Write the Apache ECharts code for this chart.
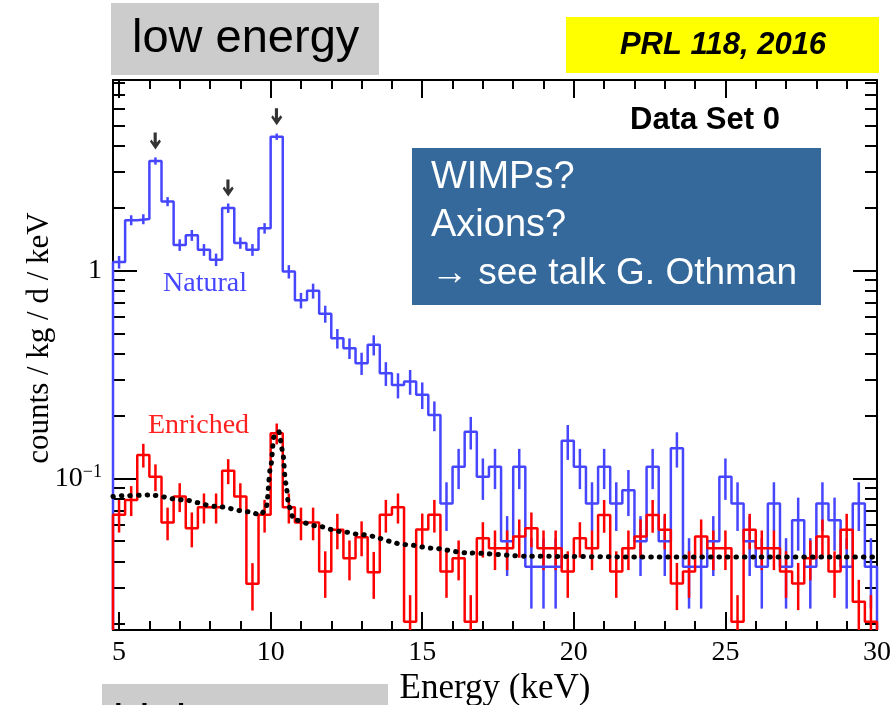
<!DOCTYPE html>
<html>
<head>
<meta charset="utf-8">
<script src="https://cdn.jsdelivr.net/npm/echarts@6/dist/echarts.min.js"></script>
<style>
  html, body { margin: 0; padding: 0; background: #ffffff; }
  #chart { width: 891px; height: 705px; }
</style>
</head>
<body>
<div id="chart"></div>
<script>
// Bin centres in keV (0.4 keV bins covering 4.8 - 30 keV)
const energies = [5.0, 5.4, 5.8, 6.2, 6.6, 7.0, 7.4, 7.8, 8.2, 8.6, 9.0, 9.4, 9.8, 10.2, 10.6,
  11.0, 11.4, 11.8, 12.2, 12.6, 13.0, 13.4, 13.8, 14.2, 14.6, 15.0, 15.4, 15.8, 16.2, 16.6,
  17.0, 17.4, 17.8, 18.2, 18.6, 19.0, 19.4, 19.8, 20.2, 20.6, 21.0, 21.4, 21.8, 22.2, 22.6,
  23.0, 23.4, 23.8, 24.2, 24.6, 25.0, 25.4, 25.8, 26.2, 26.6, 27.0, 27.4, 27.8, 28.2, 28.6,
  29.0, 29.4, 29.8];
const binHalfWidth = 0.2;

// Natural detectors: rate per bin (counts / kg / d / keV) and its uncertainty
const natural = [1.10, 1.75, 1.77, 3.37, 2.15, 1.33, 1.48, 1.26, 1.13, 2.00, 1.36, 1.26, 1.60, 4.41,
  0.99, 0.72, 0.80, 0.62, 0.473, 0.424, 0.359, 0.44, 0.321, 0.282, 0.293, 0.253, 0.202,
  0.076, 0.114, 0.168, 0.102, 0.114, 0.050, 0.114, 0.0377, 0.0377, 0.0377,
  0.152, 0.114, 0.076, 0.114, 0.076, 0.088, 0.050, 0.114, 0.050, 0.140,
  0.0377, 0.0377, 0.050, 0.102, 0.076, 0.050, 0.0377, 0.076, 0.0377, 0.063,
  0.0377, 0.076, 0.063, 0.0377, 0.076, 0.0377];
const naturalErr = [0.077, 0.097, 0.098, 0.135, 0.108, 0.085, 0.089, 0.082, 0.078, 0.104, 0.086, 0.082, 0.093, 0.154,
  0.073, 0.062, 0.066, 0.058, 0.051, 0.048, 0.044, 0.049, 0.042, 0.039, 0.040, 0.037, 0.033,
  0.020, 0.025, 0.030, 0.023, 0.025, 0.016, 0.025, 0.014, 0.014, 0.014,
  0.029, 0.025, 0.020, 0.025, 0.020, 0.022, 0.016, 0.025, 0.016, 0.027,
  0.014, 0.014, 0.016, 0.023, 0.020, 0.016, 0.014, 0.020, 0.014, 0.018,
  0.014, 0.020, 0.018, 0.014, 0.020, 0.014];

// Enriched detectors
const enriched = [0.067, 0.079, 0.130, 0.102, 0.0615, 0.082, 0.0577, 0.0728, 0.0728, 0.109,
  0.082, 0.0312, 0.067, 0.165, 0.0728, 0.0615, 0.0615, 0.0357, 0.0567, 0.0414,
  0.0523, 0.0354, 0.067, 0.0728, 0.0205, 0.0569, 0.067, 0.0357, 0.0414, 0.0205,
  0.0517, 0.0463, 0.0463, 0.0526, 0.0577, 0.0463, 0.0463, 0.0357, 0.0517, 0.0463,
  0.0669, 0.0357, 0.0463, 0.0526, 0.0669, 0.0567, 0.0313, 0.0357, 0.0526, 0.0463,
  0.0463, 0.0205, 0.0567, 0.0463, 0.0463, 0.0357, 0.0313, 0.0414, 0.0526, 0.0357,
  0.0567, 0.0256, 0.0205];
const enrichedErr = [0.012, 0.013, 0.017, 0.015, 0.011, 0.013, 0.011, 0.012, 0.012, 0.015,
  0.013, 0.008, 0.012, 0.019, 0.012, 0.011, 0.011, 0.009, 0.011, 0.009,
  0.010, 0.009, 0.012, 0.012, 0.007, 0.011, 0.012, 0.009, 0.009, 0.007,
  0.010, 0.010, 0.010, 0.011, 0.011, 0.010, 0.010, 0.009, 0.010, 0.010,
  0.012, 0.009, 0.010, 0.011, 0.012, 0.011, 0.008, 0.009, 0.011, 0.010,
  0.010, 0.007, 0.011, 0.010, 0.010, 0.009, 0.008, 0.009, 0.011, 0.009,
  0.011, 0.007, 0.007];

// Background model for the enriched spectrum
const fitEnergies = [4.8, 5.05, 6.0, 7.1, 8.2, 9.3, 9.67, 9.85, 10.0, 10.11, 10.27, 10.39, 10.5,
  10.6, 10.77, 11.5, 12.3, 13.0, 14.5, 15.3, 16.5, 18.6, 22.0, 26.0, 30.0];
const fitValues = [0.082, 0.0826, 0.0834, 0.079, 0.0735, 0.0692, 0.0669, 0.072, 0.114, 0.159, 0.168, 0.137, 0.095,
  0.0735, 0.0633, 0.0593, 0.0557, 0.0537, 0.0481, 0.0463, 0.0439, 0.0423, 0.042, 0.042, 0.042];

// X-ray lines marked with arrows
const markedLines = [6.2, 8.6, 10.2];

// Axis ticks
const xMajorTicks = [5, 10, 15, 20, 25, 30];
const xMinorTicks = [6, 7, 8, 9, 11, 12, 13, 14, 16, 17, 18, 19, 21, 22, 23, 24, 26, 27, 28, 29];
const yMajorTicks = [0.1, 1];
const yMinorTicks = [0.02, 0.03, 0.04, 0.05, 0.06, 0.07, 0.08, 0.09,
  0.2, 0.3, 0.4, 0.5, 0.6, 0.7, 0.8, 0.9, 2, 3, 4, 5, 6, 7, 8];

const xRange = [4.8, 30];
const yRange = [0.0187, 8.26];

const BLUE = '#4646ff';
const RED = '#ff0000';
const SERIF = '"Liberation Serif", "Times New Roman", serif';
const SANS = '"Liberation Sans", Arial, sans-serif';

// Histogram outline: closed down to the axis floor at both ends
function stepPoints(values) {
  const pts = [[xRange[0], yRange[0]]];
  values.forEach((v, i) => {
    pts.push([energies[i] - binHalfWidth, v]);
    pts.push([energies[i] + binHalfWidth, v]);
  });
  pts.push([xRange[1], yRange[0]]);
  return pts;
}

function histogramSeries(name, values, color) {
  return {
    name: name,
    type: 'line',
    data: stepPoints(values),
    symbol: 'none',
    clip: true,
    lineStyle: { color: color, width: 2.5 },
    z: 3
  };
}

function errorBarSeries(values, errs, color) {
  return {
    type: 'custom',
    clip: true,
    encode: { x: 0, y: 1 },
    data: values.map((v, i) => [energies[i], v, errs[i]]),
    renderItem: function (params, api) {
      const x = api.value(0), v = api.value(1), e = api.value(2);
      const top = api.coord([x, v + e]);
      const bot = api.coord([x, v - e]);
      return {
        type: 'line',
        shape: { x1: top[0], y1: top[1], x2: bot[0], y2: bot[1] },
        style: { stroke: color, lineWidth: 2.5 }
      };
    },
    z: 3
  };
}

const tickLine = { color: '#000', width: 2 };
const hidden = { show: false };

function xAxisDef(position, ticks, length, withLine, withLabel) {
  return {
    type: 'value', position: position, min: xRange[0], max: xRange[1],
    splitLine: hidden,
    axisLine: withLine ? { show: true, onZero: false, lineStyle: tickLine } : hidden,
    axisTick: { show: true, inside: true, length: length, customValues: ticks, lineStyle: tickLine },
    axisLabel: withLabel ? {
      show: true, customValues: ticks, margin: 9,
      fontFamily: SERIF, fontSize: 28, color: '#000'
    } : hidden
  };
}

function yAxisDef(position, ticks, length, withLine, withLabel) {
  return {
    type: 'log', logBase: 10, position: position, min: yRange[0], max: yRange[1],
    splitLine: hidden,
    axisLine: withLine ? { show: true, onZero: false, lineStyle: tickLine } : hidden,
    axisTick: { show: true, inside: true, length: length, customValues: ticks, lineStyle: tickLine },
    axisLabel: withLabel ? {
      show: true, customValues: ticks, margin: 11, color: '#000',
      formatter: function (v) {
        const p = Math.round(Math.log10(v));
        if (p === 0) return '{b|1}';
        return '{b|10}{s|' + (p < 0 ? '\u2212' + (-p) : p) + '}';
      },
      rich: {
        b: { fontFamily: SERIF, fontSize: 28, lineHeight: 30, color: '#000' },
        s: { fontFamily: SERIF, fontSize: 18, lineHeight: 30, verticalAlign: 'top', color: '#000' }
      }
    } : hidden
  };
}

const xAxes = [
  xAxisDef('bottom', xMajorTicks, 18, true, true),
  xAxisDef('bottom', xMinorTicks, 9, false, false),
  xAxisDef('top', xMajorTicks, 18, true, false),
  xAxisDef('top', xMinorTicks, 9, false, false)
];
Object.assign(xAxes[0], {
  name: 'Energy (keV)', nameLocation: 'middle', nameGap: 41, nameMoveOverlap: false,
  nameTextStyle: { fontFamily: SERIF, fontSize: 35, color: '#000' }
});

const yAxes = [
  yAxisDef('left', yMajorTicks, 24, true, true),
  yAxisDef('left', yMinorTicks, 12, false, false),
  yAxisDef('right', yMajorTicks, 24, true, false),
  yAxisDef('right', yMinorTicks, 12, false, false)
];
Object.assign(yAxes[0], {
  name: 'counts / kg / d / keV', nameLocation: 'middle', nameGap: 58, nameMoveOverlap: false,
  nameTextStyle: { fontFamily: SERIF, fontSize: 31, color: '#000', padding: [0, 0, 0, 34] }
});

const chart = echarts.init(document.getElementById('chart'), null, { renderer: 'canvas' });

chart.setOption({
  animation: false,
  backgroundColor: '#ffffff',
  grid: { left: 113, right: 14, top: 80, bottom: 75, containLabel: false, outerBoundsMode: 'none' },
  xAxis: xAxes,
  yAxis: yAxes,
  series: [
    histogramSeries('Natural', natural, BLUE),
    errorBarSeries(natural, naturalErr, BLUE),
    histogramSeries('Enriched', enriched, RED),
    errorBarSeries(enriched, enrichedErr, RED),
    {
      name: 'Background model',
      type: 'line',
      data: fitEnergies.map((e, i) => [e, fitValues[i]]),
      symbol: 'none',
      smooth: 0.3,
      smoothMonotone: 'x',
      clip: true,
      lineStyle: { color: '#000', width: 5, type: [0.5, 8], cap: 'round' },
      z: 4
    },
    {
      type: 'scatter',
      data: markedLines.map(e => [e, natural[energies.indexOf(e)]]),
      symbol: 'path://M3.5,0 L6.5,0 L6.5,10 L9,7 L10.5,9 L5.25,17 L0,9 L1.5,7 L3.5,10 Z',
      symbolSize: [11, 17],
      symbolOffset: [0, -20],
      itemStyle: { color: '#000' },
      silent: true,
      z: 5
    }
  ],
  graphic: [
    { type: 'rect', shape: { x: 111, y: 3, width: 268, height: 72 }, style: { fill: '#cccccc' } },
    { type: 'text', x: 132, y: 39, style: { text: 'low energy', font: '47px ' + SANS, fill: '#000', align: 'left', verticalAlign: 'middle' } },
    { type: 'rect', shape: { x: 102, y: 684, width: 286, height: 40 }, style: { fill: '#cccccc' } },
    { type: 'text', x: 113, y: 724, style: { text: 'high energy', font: '47px ' + SANS, fill: '#000', align: 'left', verticalAlign: 'middle' } },
    { type: 'rect', shape: { x: 566, y: 17, width: 313, height: 56 }, style: { fill: '#ffff00' } },
    { type: 'text', x: 723, y: 45, style: { text: 'PRL 118, 2016', font: 'italic bold 31px ' + SANS, fill: '#000', align: 'center', verticalAlign: 'middle' } },
    { type: 'text', x: 630, y: 120, style: { text: 'Data Set 0', font: 'bold 31px ' + SANS, fill: '#000', align: 'left', verticalAlign: 'middle' } },
    { type: 'rect', shape: { x: 412, y: 148, width: 409, height: 157 }, style: { fill: '#35699b' } },
    { type: 'text', x: 431, y: 178, style: { text: 'WIMPs?', font: '38px ' + SANS, fill: '#ffffff', align: 'left', verticalAlign: 'middle' } },
    { type: 'text', x: 431, y: 226, style: { text: 'Axions?', font: '38px ' + SANS, fill: '#ffffff', align: 'left', verticalAlign: 'middle' } },
    { type: 'text', x: 431, y: 274, style: { text: '\u2192 see talk G. Othman', font: '37px ' + SANS, fill: '#ffffff', align: 'left', verticalAlign: 'middle' } },
    { type: 'text', x: 163, y: 284, style: { text: 'Natural', font: '28px ' + SERIF, fill: BLUE, align: 'left', verticalAlign: 'middle' } },
    { type: 'text', x: 148, y: 426, style: { text: 'Enriched', font: '28px ' + SERIF, fill: '#ff2020', align: 'left', verticalAlign: 'middle' } }
  ]
});
</script>
</body>
</html>
